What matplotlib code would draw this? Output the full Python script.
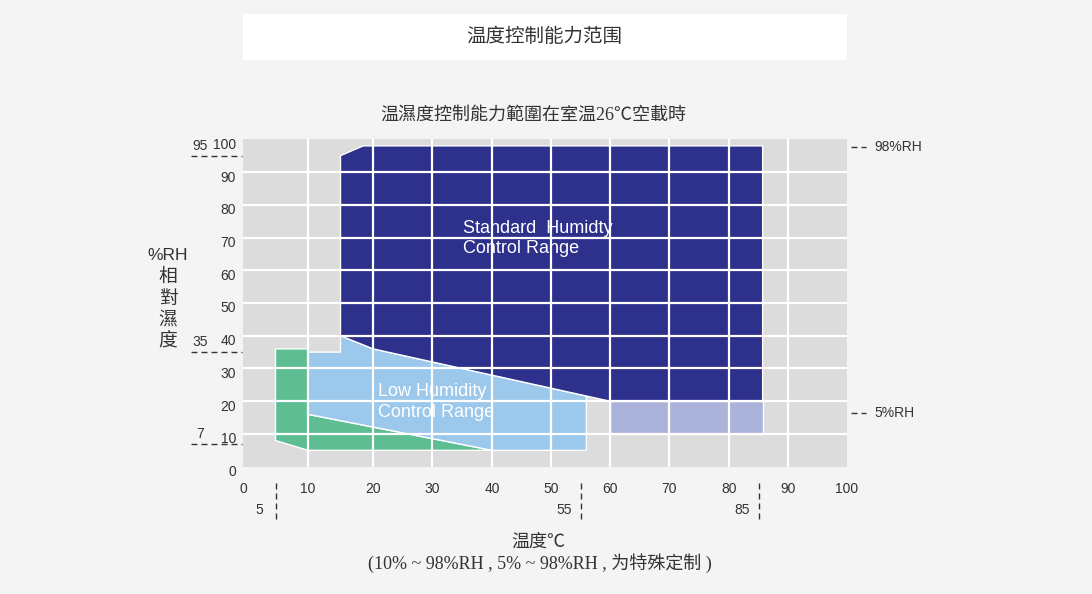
import numpy as np
import matplotlib
matplotlib.use("Agg")
import matplotlib.pyplot as plt
from matplotlib.patches import Polygon, Rectangle
from matplotlib.lines import Line2D
from matplotlib.transforms import ScaledTranslation

plt.rcParams['font.family'] = ['Liberation Sans', 'Noto Sans CJK SC']

# ---- data ----
title = '温度控制能力范围'
subtitle = '温濕度控制能力範圍在室温26℃空載時'
ylabel_parts = ['%RH', '相', '對', '濕', '度']
xlabel = '温度℃'
xnote = '(10% ~ 98%RH , 5% ~ 98%RH , 为特殊定制 )'

x_ticks = list(range(0, 101, 10))
y_ticks = list(range(0, 101, 10))

# regions (temperature °C, humidity %RH)
standard_x = [15, 15, 18.5, 85.7, 85.7, 60, 20]
standard_y = [40, 95, 98, 98, 20, 20, 36]
low_x = [10, 10, 15, 15, 20, 56, 56, 40]
low_y = [16, 35, 35, 40, 36, 21.6, 5, 5]
special_x = [5, 5, 10, 10, 40, 10]
special_y = [8, 36, 36, 16, 5, 5]
dry_x = [60, 60, 85.7, 85.7]
dry_y = [10, 20, 20, 10]

left_marks = [95, 35, 7]           # %RH marks on the left
bottom_marks = [5, 55, 85]         # °C marks below the axis
right_marks = [('98%RH', 97.5), ('5%RH', 16.5)]

# the reference draws its 10° bands with uneven widths
band_w = np.array([65, 65, 59, 60, 59, 59, 59, 60, 59, 59], float)
band_edges = np.concatenate([[0], np.cumsum(band_w)])
tick_arr = np.array(x_ticks, float)


def fwd(x):
    x = np.asarray(x, float)
    out = np.interp(x, tick_arr, band_edges)
    out = np.where(x < 0, x * band_w[0] / 10, out)
    out = np.where(x > 100, band_edges[-1] + (x - 100) * band_w[-1] / 10, out)
    return out


def inv(p):
    p = np.asarray(p, float)
    out = np.interp(p, band_edges, tick_arr)
    out = np.where(p < 0, p * 10 / band_w[0], out)
    out = np.where(p > band_edges[-1], 100 + (p - band_edges[-1]) * 10 / band_w[-1], out)
    return out


# colours
BG = '#F4F4F4'
GREY = '#DCDCDC'
NAVY = '#2E318B'
SKY = '#9CC8EC'
GREEN = '#5EBD92'
LAVENDER = '#ACB3DA'
TXT = '#333333'

W, H = 1092, 594
fig = plt.figure(figsize=(W / 100, H / 100), dpi=100, facecolor=BG)

# title box
fig.add_artist(Rectangle((243 / W, 1 - 60 / H), 604 / W, 46 / H,
                         transform=fig.transFigure, facecolor='white',
                         edgecolor='none'))
fig.text(544 / W, 1 - 37 / H, title, ha='center', va='center',
         fontsize=14, color=TXT, family=['Noto Sans CJK SC'])
fig.text(533 / W, 1 - 115 / H, subtitle, ha='center', va='center',
         fontsize=13, color=TXT, family=['Liberation Serif', 'Noto Sans CJK TC'])

ax = fig.add_axes([243 / W, (H - 466.7) / H, 604 / W, 327.4 / H])
ax.set_xscale('function', functions=(fwd, inv))
ax.set_xlim(0, 100)
ax.set_ylim(0, 100)
ax.set_facecolor(GREY)
for s in ax.spines.values():
    s.set_visible(False)

regions = [
    (special_x, special_y, GREEN),
    (low_x, low_y, SKY),
    (dry_x, dry_y, LAVENDER),
    (standard_x, standard_y, NAVY),
]
for xs, ys, col in regions:
    ax.add_patch(Polygon(np.column_stack([xs, ys]), closed=True,
                         facecolor=col, edgecolor='white', lw=1.0, zorder=2))

for v in x_ticks[1:-1]:
    ax.axvline(v, color='white', lw=1.6, zorder=4)
for v in y_ticks[1:-1]:
    ax.axhline(v, color='white', lw=1.6, zorder=4)

ax.set_xticks(x_ticks)
ax.set_yticks(y_ticks)
ax.tick_params(length=0, labelsize=10, labelcolor=TXT)
ax.tick_params(axis='x', pad=11)
ax.tick_params(axis='y', pad=5)
# y labels sit a little below their grid lines in the original
shift = ScaledTranslation(0, -0.04, fig.dpi_scale_trans)
for lab in ax.get_yticklabels():
    lab.set_transform(lab.get_transform() + shift)

ax.text(35.1, 75.4, 'Standard  Humidty\nControl Range', color='white',
        fontsize=13, ha='left', va='top', linespacing=1.28, zorder=5)
ax.text(20.9, 25.5, 'Low Humidity\nControl Range', color='white',
        fontsize=13, ha='left', va='top', linespacing=1.28, zorder=5)

dash = (0, (4.3, 2.9))
ytr = ax.get_yaxis_transform()
xtr = ax.get_xaxis_transform()
for v in left_marks:
    ax.add_line(Line2D([-0.086, -0.002], [v, v], transform=ytr, color=TXT,
                       lw=1.0, ls=dash, clip_on=False))
    ax.annotate(str(v), xy=(-0.071, v), xycoords=ytr, xytext=(0, 3),
                textcoords='offset pixels', ha='center', va='bottom',
                fontsize=10, color=TXT)

for v in bottom_marks:
    ax.add_line(Line2D([v, v], [-0.050, -0.163], transform=xtr, color=TXT,
                       lw=1.0, ls=dash, clip_on=False))
    ax.annotate(str(v), xy=(v, -0.132), xycoords=xtr, xytext=(-16, 0),
                textcoords='offset pixels', ha='center', va='center',
                fontsize=10, color=TXT)

for lab, v in right_marks:
    ax.add_line(Line2D([1.0066, 1.0315], [v, v], transform=ytr, color=TXT,
                       lw=1.0, ls=dash, clip_on=False))
    ax.text(1.046, v, lab, transform=ytr, ha='left', va='center',
            fontsize=10, color=TXT)

# y label stacked vertically
for i, part in enumerate(ylabel_parts):
    fig.text(168 / W, 1 - (256 + i * 21.5) / H, part, ha='center', va='center',
             fontsize=12.5 if i == 0 else 13.5, color=TXT)

fig.text(538 / W, 1 - 542 / H, xlabel, ha='center', va='center',
         fontsize=13, color=TXT)
fig.text(540 / W, 1 - 563 / H, xnote, ha='center', va='center', fontsize=13,
         color=TXT, family=['Liberation Serif', 'Noto Sans CJK SC'])

fig.savefig('out.png', dpi=100, facecolor=BG)
